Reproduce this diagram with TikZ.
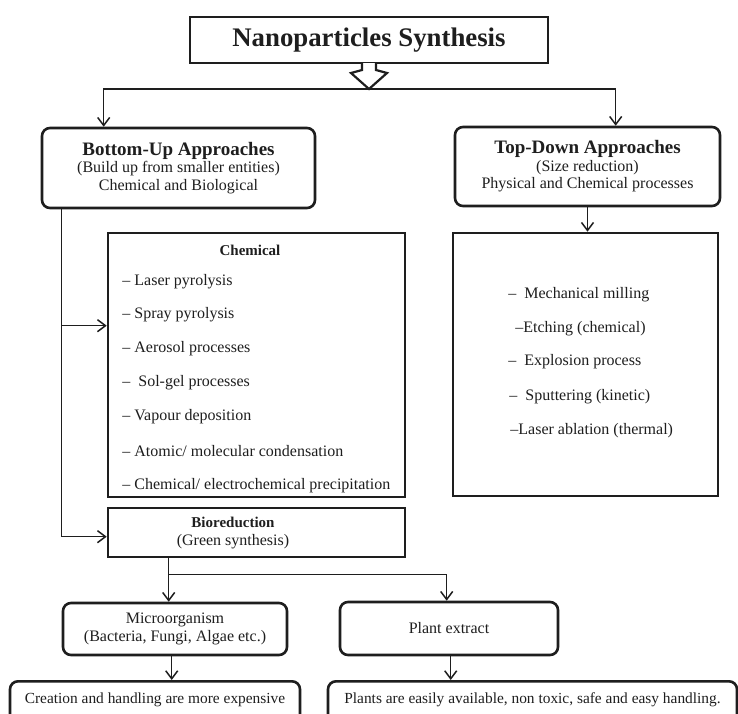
\documentclass[tikz,border=0pt]{standalone}
\usepackage{fontspec}
\setmainfont{Liberation Serif}
\usetikzlibrary{arrows.meta, positioning, calc}
\definecolor{ink}{HTML}{1E1E1E}

\begin{document}
\begin{tikzpicture}[
  x=0.5pt, y=-0.5pt,
  sqbox/.style={draw=ink, rectangle, line width=1.3pt, align=center, inner sep=0pt, text=ink, font=\fontsize{8}{8.75}\selectfont},
  rbox/.style={sqbox, rounded corners=4pt},
  item/.style={anchor=west, inner sep=0pt, text=ink, font=\fontsize{8}{10}\selectfont},
  head/.style={inner sep=0pt, text=ink, align=center, font=\fontsize{8}{8.75}\selectfont},
  link/.style={draw=ink, line width=0.75pt, -{Straight Barb[length=4pt, width=6pt]}},
  wire/.style={draw=ink, line width=0.75pt}
]
\fill[white] (0,0) rectangle (738,713);
\clip (0,0) rectangle (738,713);

% title and hollow arrow
\node[sqbox, minimum width=179pt, minimum height=23pt, font=\fontsize{13.4}{15}\selectfont\bfseries] (title) at (369,40) {Nanoparticles Synthesis};
\draw[ink, line width=1.1pt, fill=white] (362,63) -- (362,70) -- (351,73) -- (369,89) -- (387,73) -- (376,70) -- (376,63);
\coordinate (tip) at (369,89);

% two approaches
\node[rbox, minimum width=136.5pt, minimum height=40pt] (bu) at (178.5,168) {{\fontsize{9.5}{11}\selectfont\bfseries Bottom-Up Approaches}\\(Build up from smaller entities)\\Chemical and Biological};
\node[rbox, minimum width=132.5pt, minimum height=39.5pt] (td) at (587.5,166.5) {{\fontsize{9.5}{11}\selectfont\bfseries Top-Down Approaches}\\(Size reduction)\\Physical and Chemical processes};

\draw[link] (tip) -| ($(bu.north west)+(63,0)$);
\draw[link] (tip) -| ($(td.north west)+(162,0)$);

% chemical methods
\node[sqbox, minimum width=148.5pt, minimum height=132pt] (chem) at (256.5,365) {};
\node[head, font=\fontsize{7.5}{9}\selectfont\bfseries] (chemhead) at (250,250) {Chemical};
\node[item] (c1) at (122,282) {– Laser pyrolysis};
\node[item] (c2) at (122,315) {– Spray pyrolysis};
\node[item] (c3) at (122,349) {– Aerosol processes};
\node[item] (c4) at (122,383) {–\ \ Sol-gel processes};
\node[item] (c5) at (122,417) {– Vapour deposition};
\node[item] (c6) at (122,451) {– Atomic/ molecular condensation};
\node[item] (c7) at (122,486) {– Chemical/ electrochemical precipitation};

% physical methods
\node[sqbox, minimum width=132.5pt, minimum height=131.5pt] (tdlist) at (585.5,364.5) {};
\draw[link] (td.south) -- (td.south |- tdlist.north);
\node[item] (t1) at (508,295) {–\ \ Mechanical milling};
\node[item] (t2) at (515,329) {–Etching (chemical)};
\node[item] (t3) at (508,362) {–\ \ Explosion process};
\node[item] (t4) at (509,397) {–\ \ Sputtering (kinetic)};
\node[item] (t5) at (510,431) {–Laser ablation (thermal)};

% bioreduction
\node[sqbox, minimum width=148.5pt, minimum height=24.5pt] (bio) at (256.5,532.5) {};
\node[head] (biotext) at (233,533) {{\fontsize{7.5}{9}\selectfont\bfseries Bioreduction}\\(Green synthesis)};

\coordinate (trunk) at ($(bu.south west)+(21,0)$);
\draw[link] (trunk) |- ($(chem.north west)+(0,94)$);
\draw[link] (trunk) |- ($(bio.north west)+(0,30)$);

% biological routes
\node[rbox, minimum width=112pt, minimum height=26pt] (micro) at (175,629) {Microorganism\\(Bacteria, Fungi, Algae etc.)};
\node[rbox, minimum width=109pt, minimum height=26.5pt] (plant) at (449,628.5) {Plant extract};

\coordinate (biosplit) at ($(bio.south west)+(62,16)$);
\draw[wire] ($(bio.south west)+(62,0)$) -- (biosplit);
\draw[link] (biosplit) -- (biosplit |- micro.north);
\draw[link] (biosplit) -| ($(plant.north west)+(108,0)$);

% remarks
\node[rbox, anchor=north, inner ysep=5pt, text height=6pt, text depth=14pt, minimum width=145pt, font=\fontsize{7.7}{9}\selectfont] (cost) at (155,680) {Creation and handling are more expensive};
\node[rbox, anchor=north, inner ysep=5pt, text height=6pt, text depth=14pt, minimum width=204.5pt, font=\fontsize{7.7}{9}\selectfont] (ease) at (532.5,680) {Plants are easily available, non toxic, safe and easy handling.};

\coordinate (m1) at ($(micro.south west)+(110,0)$);
\coordinate (p1) at ($(plant.south west)+(112,0)$);
\draw[link] (m1) -- (m1 |- cost.north);
\draw[link] (p1) -- (p1 |- ease.north);
\end{tikzpicture}
\end{document}
